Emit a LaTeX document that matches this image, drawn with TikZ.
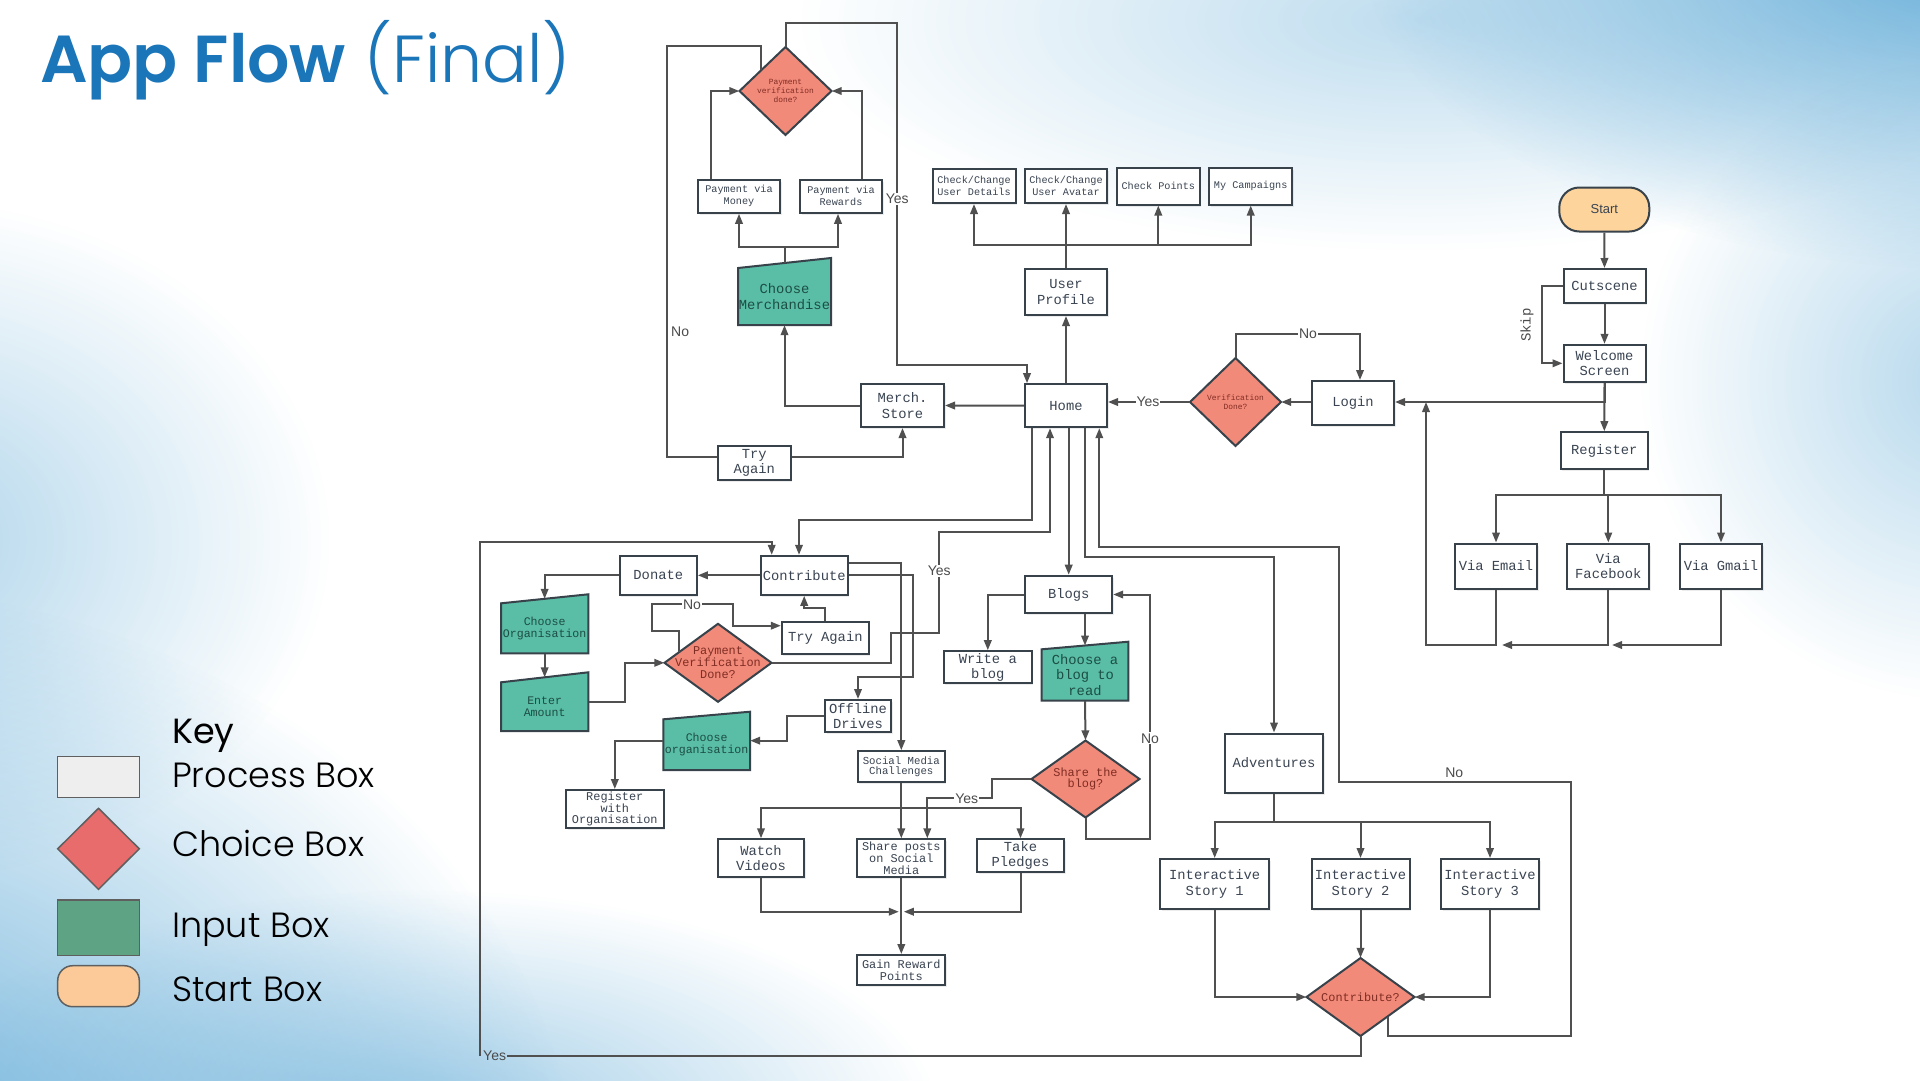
\documentclass[tikz,border=0pt]{standalone}
\usepackage{fontspec}
\setmainfont{Liberation Sans}
\newfontfamily\mono{Liberation Mono}
\newfontfamily\pop{Poppins}
\IfFontExistsTF{Poppins Light}{\newfontfamily\poplight{Poppins Light}}{\newfontfamily\poplight{Poppins}}
\IfFontExistsTF{Poppins SemiBold}{\newfontfamily\popsemi{Poppins SemiBold}}{\newfontfamily\popsemi{Poppins}[UprightFont=*,BoldFont=*]}
\usetikzlibrary{arrows.meta,calc,fadings,shadows}
\tikzfading[name=softblob,inner color=transparent!0,outer color=transparent!100]
\newcommand\myfs[2]{\fontsize{#1}{#2}\selectfont}
\definecolor{boxc}{RGB}{55,66,74}
\definecolor{linec}{RGB}{80,80,80}
\definecolor{txtc}{RGB}{58,68,82}
\definecolor{chf}{RGB}{242,138,122}
\definecolor{cht}{RGB}{128,45,35}
\definecolor{inf}{RGB}{90,189,166}
\definecolor{intx}{RGB}{28,78,68}
\definecolor{stf}{RGB}{252,212,156}
\definecolor{lblc}{RGB}{75,75,75}
\definecolor{titleblue}{RGB}{27,117,185}
\definecolor{bgblue}{RGB}{95,170,215}
\definecolor{legproc}{RGB}{238,238,238}
\definecolor{legch}{RGB}{232,108,108}
\definecolor{legin}{RGB}{95,163,133}
\definecolor{legst}{RGB}{251,202,152}
\definecolor{leggray}{RGB}{95,95,95}
\newcommand\Choice[7]{%
  \filldraw[chshape] ({#3-#5/2},#4) -- (#3,{#4-#6/2}) -- ({#3+#5/2},#4) -- (#3,{#4+#6/2}) -- cycle;
  \node[chtxt,#2,minimum width=#5pt,minimum height=#6pt] (#1) at (#3,#4) {#7};}
\newcommand\InBox[8]{%
  \filldraw[inshape] (#3,#7) -- (#4,#7) -- (#4,#6) -- (#3,#5) -- cycle;
  \coordinate (#1-t) at ({(#3+#4)/2},{(#5+#6)/2});
  \node[intxt,#2,minimum width={#4pt-#3pt},minimum height={#7pt-#5pt}] (#1) at ({(#3+#4)/2},{(#5+#7)/2}) {#8};}
\tikzset{
  conn/.style={draw=linec,line width=2pt},
  arr/.style={conn,-{Triangle[length=10pt,width=7.5pt]}},
  pbox/.style={draw=boxc,fill=white,line width=2pt,inner sep=0pt,align=center,text=txtc,
    drop shadow={shadow xshift=1.5pt,shadow yshift=-2pt,opacity=0.15}},
  startst/.style={draw=boxc,fill=stf,line width=2pt,rounded corners=20pt,inner sep=0pt,font=\myfs{13}{15},text=txtc},
  chshape/.style={fill=chf,draw=boxc,line width=2pt},
  chtxt/.style={inner sep=0pt,align=center,text=cht},
  inshape/.style={fill=inf,draw=boxc,line width=2pt},
  intxt/.style={inner sep=0pt,align=center,text=intx},
  fA/.style={font=\mono\myfs{13.8}{15.2}},
  fB/.style={font=\mono\myfs{10.2}{12}},
  fC/.style={font=\mono\myfs{11.9}{11.8}},
  fD/.style={font=\mono\myfs{7.9}{9.3}},
  fE/.style={font=\mono\myfs{10.7}{10.8}},
  fF/.style={font=\mono\myfs{11.6}{11.8}},
  lbl/.style={font=\myfs{14}{15},text=lblc,inner sep=1pt,fill=white},
  legtxt/.style={font=\poplight\myfs{35}{40},text=black,inner sep=0pt}
}
\begin{document}
\begin{tikzpicture}[x=1pt,y=-1pt]
\useasboundingbox (0,0) rectangle (1920,1080);
\fill[white] (0,0) rectangle (1920,1080);
% background watercolour
\fill[bgblue,opacity=1,path fading=softblob] (-200,1200) ellipse (780 and 620);
\fill[bgblue,opacity=0.5,path fading=softblob] (-100,540) ellipse (430 and 340);
\fill[bgblue,opacity=0.6,path fading=softblob] (420,1120) ellipse (520 and 230);
\fill[bgblue,opacity=1,path fading=softblob] (1980,-60) ellipse (620 and 330);
\fill[bgblue,opacity=0.4,path fading=softblob] (1420,20) ellipse (620 and 230);
\fill[bgblue,opacity=0.45,path fading=softblob] (1960,380) ellipse (320 and 320);

% title
\node[anchor=base west,inner sep=0pt,text=titleblue] (title) at (40,82) {\myfs{66.5}{70}{\popsemi App Flow} {\poplight(Final)}};

% legend
\node[draw=leggray,fill=legproc,line width=1.5pt,minimum width=81.6pt,minimum height=40.6pt,inner sep=0pt] (kproc) at (98.5,777) {};
\filldraw[fill=legch,draw=leggray,line width=1.5pt] (57.7,848.8) -- (98.5,808.3) -- (139.3,848.8) -- (98.5,889.3) -- cycle;
\node[minimum width=81.6pt,minimum height=81pt,inner sep=0pt] (kch) at (98.5,848.8) {};
\node[draw=leggray,fill=legin,line width=1.5pt,minimum width=81.6pt,minimum height=55.7pt,inner sep=0pt] (kin) at (98.5,927.8) {};
\node[draw=leggray,fill=legst,line width=1.5pt,rounded corners=15pt,minimum width=81.6pt,minimum height=41pt,inner sep=0pt] (kst) at (98.5,986.2) {};
\node[legtxt,font=\pop\myfs{35}{40},anchor=base west] (kkey) at (172,743.3) {Key};
\node[legtxt,anchor=base west] (ktone) at (172,787.3) {Process Box};
\node[legtxt,anchor=base west] (kttwo) at (172,856.7) {Choice Box};
\node[legtxt,anchor=base west] (ktthree) at (172,937.3) {Input Box};
\node[legtxt,anchor=base west] (ktfour) at (172,1001.7) {Start Box};

% process boxes
\node[pbox,fB,minimum width=82pt,minimum height=33pt] (pmoney) at (739,196.3) {Payment via\\Money};
\node[pbox,fB,minimum width=82pt,minimum height=33pt] (prew) at (841,196.3) {Payment via\\Rewards};
\node[pbox,fB,minimum width=83pt,minimum height=34pt] (ccud) at (974,186) {Check/Change\\User Details};
\node[pbox,fB,minimum width=82pt,minimum height=34pt] (ccua) at (1066,186) {Check/Change\\User Avatar};
\node[pbox,fB,minimum width=83pt,minimum height=37pt] (chkp) at (1158.3,186) {Check Points};
\node[pbox,fB,minimum width=83pt,minimum height=37pt] (mycamp) at (1250.7,186) {My Campaigns};
\node[pbox,fA,minimum width=82pt,minimum height=46pt] (uprof) at (1066,292) {User\\Profile};
\node[pbox,fA,minimum width=82pt,minimum height=43pt] (home) at (1066,405.7) {Home};
\node[pbox,fA,minimum width=83pt,minimum height=43pt] (merch) at (902.5,405.5) {Merch.\\Store};
\node[pbox,fA,minimum width=73pt,minimum height=34pt] (tryone) at (754.2,463) {Try\\Again};
\node[pbox,fA,minimum width=82pt,minimum height=44pt] (login) at (1353,403) {Login};
\node[startst,minimum width=90pt,minimum height=44pt] (start) at (1604.3,209.5) {Start};
\node[pbox,fA,minimum width=82pt,minimum height=34pt] (cut) at (1604.5,286) {Cutscene};
\node[pbox,fA,minimum width=82pt,minimum height=37pt] (welcome) at (1604.5,363.3) {Welcome\\Screen};
\node[pbox,fA,minimum width=87pt,minimum height=37pt] (reg) at (1604.3,450.7) {Register};
\node[pbox,fA,minimum width=82pt,minimum height=45pt] (vemail) at (1496,566) {Via Email};
\node[pbox,fA,minimum width=82pt,minimum height=45pt] (vfb) at (1608.3,566) {Via\\Facebook};
\node[pbox,fA,minimum width=82pt,minimum height=45pt] (vgmail) at (1721,566) {Via Gmail};
\node[pbox,fA,minimum width=77pt,minimum height=39pt] (donate) at (658.3,575.3) {Donate};
\node[pbox,fA,minimum width=87pt,minimum height=39pt] (contrib) at (804.2,575.3) {Contribute};
\node[pbox,fA,minimum width=87pt,minimum height=32pt] (trytwo) at (825.3,637.5) {Try Again};
\node[pbox,fA,minimum width=66pt,minimum height=32pt] (offline) at (858,716) {Offline\\Drives};
\node[pbox,fC,minimum width=97.6pt,minimum height=38pt] (regorg) at (614.8,809) {Register\\with\\Organisation};
\node[pbox,fE,minimum width=87pt,minimum height=31pt] (smc) at (901.3,766.7) {Social Media\\Challenges};
\node[pbox,fA,minimum width=86pt,minimum height=38pt] (watch) at (761,858.3) {Watch\\Videos};
\node[pbox,fC,minimum width=88pt,minimum height=38pt] (share) at (901.3,858.3) {Share posts\\on Social\\Media};
\node[pbox,fA,minimum width=87pt,minimum height=33pt] (pledge) at (1020.5,855.8) {Take\\Pledges};
\node[pbox,fC,minimum width=88pt,minimum height=30pt] (gain) at (901.3,970) {Gain Reward\\Points};
\node[pbox,fA,minimum width=87pt,minimum height=37.6pt] (blogs) at (1068.7,594.5) {Blogs};
\node[pbox,fA,minimum width=88pt,minimum height=32pt] (write) at (987.8,667.2) {Write a\\blog};
\node[pbox,fA,minimum width=98pt,minimum height=59pt] (adv) at (1274,763) {Adventures};
\node[pbox,fA,minimum width=109pt,minimum height=50pt] (isone) at (1214.7,884) {Interactive\\Story 1};
\node[pbox,fA,minimum width=98pt,minimum height=50pt] (istwo) at (1360.5,884) {Interactive\\Story 2};
\node[pbox,fA,minimum width=98pt,minimum height=50pt] (isthree) at (1490,884) {Interactive\\Story 3};

% choice boxes
\Choice{payd}{fD}{785.5}{91}{92}{88}{Payment\\verification\\done?}
\Choice{verd}{fD}{1235.5}{402}{91}{88}{Verification\\Done?}
\Choice{pvd}{fC}{718}{662.8}{107}{78}{Payment\\Verification\\Done?}
\Choice{shareq}{fC}{1085.5}{779}{108}{77}{Share the\\blog?}
\Choice{contq}{fC}{1360.5}{997}{108}{78}{Contribute?}

% input boxes
\InBox{cmerch}{fA}{738}{831}{268}{258}{325}{Choose\\Merchandise}
\InBox{corgone}{fF}{501}{588.3}{603.3}{594.3}{653.3}{Choose\\Organisation}
\InBox{enter}{fF}{501}{588.3}{682.3}{672.3}{731}{Enter\\Amount}
\InBox{corgtwo}{fF}{663.3}{750}{719.3}{711.7}{770}{Choose\\organisation}
\InBox{cblog}{fA}{1041.7}{1128.3}{649.3}{641.7}{700.7}{Choose a\\blog to\\read}

% bottom-left Yes label (needed by a connector)
\node[lbl,fill=none,anchor=west] (lyes) at (482,1056) {Yes};
\coordinate (jl) at (1426,402);
\coordinate (jg) at (901.3,911.7);

% merchandise connectors
\draw[arr] (cmerch-t) -- ++(0,-16.3) -| (pmoney.south);
\draw[arr] (cmerch-t) -- ++(0,-16.3) -| ([xshift=-3pt]prew.south);
\draw[arr] ([xshift=-28pt]pmoney.north) |- (payd.west);
\draw[arr] ([xshift=21pt]prew.north) |- (payd.east);
\draw[conn] ($(payd.west)!0.47!(payd.north)$) -- ++(0,-24) -- ++(-94,0) |- ([yshift=5.7pt]tryone.west);
\draw[arr] (payd.north) -- ++(0,-24) -| (897.3,365) -| ([xshift=-39pt]home.north);
\draw[arr] (home.west) -- (merch.east);
\draw[arr] (merch.west) -| (cmerch.south);
\draw[arr] ([yshift=5.7pt]tryone.east) -| (merch.south);

% profile connectors
\draw[arr] (home.north) -- (uprof.south);
\draw[arr] (uprof.north) -- (ccua.south);
\draw[arr] (uprof.north) -- ++(0,-23.3) -| (ccud.south);
\draw[arr] (uprof.north) -- ++(0,-23.3) -| (chkp.south);
\draw[arr] (uprof.north) -- ++(0,-23.3) -| (mycamp.south);

% login connectors
\draw[arr] (login.west |- verd.east) -- (verd.east);
\draw[arr] (verd.west) -- (verd.west -| home.east);
\draw[arr] (verd.north) -- ++(0,-24) -| ([xshift=7pt]login.north);

% start connectors
\draw[arr] (start.south) -- (cut.north);
\draw[arr] (cut.south) -- (welcome.north);
\draw[arr] (cut.west) -- ++(-21,0) |- (welcome.west);
\draw[arr] (welcome.south) -- (reg.north);
\draw[arr] (welcome.south) |- (login.east |- verd.east);
\draw[arr] (reg.south) -- ++(0,24.3) -| (vemail.north);
\draw[arr] (reg.south) -- ++(0,24.3) -| (vfb.north);
\draw[arr] (reg.south) -- ++(0,24.3) -| (vgmail.north);
\draw[arr] (vgmail.south) |- (1612,645);
\draw[arr] (vfb.south) |- (1502,645);
\draw[arr] (vemail.south) |- (1426,645) -- (jl);

% contribute connectors
\draw[arr] (contrib.west) -- (donate.east);
\draw[arr] (donate.west) -| (corgone-t);
\draw[arr] (corgone.south) -- (enter-t);
\draw[arr] ([yshift=5pt]enter.east) -- ++(36.7,0) |- (pvd.west);
\draw[arr] ($(pvd.west)!0.28!(pvd.north)$) -- ++(0,-21.3) -- ++(-27,0) -- ++(0,-26.4) -- ++(81,0) |- ([yshift=11.8pt]trytwo.west);
\draw[arr] (trytwo.north) -- ++(0,-12.7) -| (contrib.south);
\draw[arr] (pvd.east) -- ++(119.3,0) |- (939.3,633.3) -- (939.3,531.7) -| ([xshift=-16pt]home.south);
\draw[arr] ([xshift=-34.3pt]home.south) -- ++(0,92) -| ([xshift=-5.2pt]contrib.north);
\draw[conn] (contq.south) |- (lyes.east);
\draw[arr] ([xshift=-2pt]lyes.west) |- (600,541.7) -| ([xshift=-32.5pt]contrib.north);
\draw[arr] ([yshift=12.6pt]contrib.east) -| (smc.north);
\draw[arr] (contrib.east) -| (912.7,677.3) -| (offline.north);
\draw[arr] (offline.west) -- ++(-36.7,0) |- ([yshift=4pt]corgtwo.east);
\draw[arr] ([yshift=4pt]corgtwo.west) -| (regorg.north);
\draw[arr] (smc.south) -- (share.north);
\draw[arr] (smc.south) -- ++(0,24.4) -| (watch.north);
\draw[arr] (smc.south) -- ++(0,24.4) -| (pledge.north);
\draw[arr] (shareq.west) -- ++(-39,0) |- (960,798.3) -| ([xshift=26pt]share.north);
\draw[arr] (watch.south) |- ([xshift=-2.5pt]jg);
\draw[arr] (pledge.south) |- ([xshift=2.5pt]jg);
\draw[arr] (share.south) -- (gain.north);

% blog connectors
\draw[arr] (home.south -| blogs.north) -- (blogs.north);
\draw[arr] (blogs.west) -| (write.north);
\draw[arr] (blogs.south -| cblog-t) -- (cblog-t);
\draw[arr] (cblog.south) -- (shareq.north);
\draw[arr] (shareq.south) -- ++(0,21) -- ++(64.5,0) |- (blogs.east);

% adventure connectors
\draw[arr] ([xshift=19pt]home.south) -- ++(0,128.3) -| (adv.north);
\draw[arr] (adv.south) -- ++(0,28.4) -| (isone.north);
\draw[arr] (adv.south) -- ++(0,28.4) -| (istwo.north);
\draw[arr] (adv.south) -- ++(0,28.4) -| (isthree.north);
\draw[arr] (isone.south) |- (contq.west);
\draw[arr] (isthree.south) |- (contq.east);
\draw[arr] (istwo.south) -- (contq.north);
\draw[arr] ($(contq.south)!0.5!(contq.east)$) -- ++(0,19.7) -| (1571,782.3) -| (1339,547) -| ([xshift=33.3pt]home.south);

% labels
\node[lbl] (lyesa) at (897.3,199) {Yes};
\node[lbl,fill=none,anchor=west] (lnoa) at (670,332) {No};
\node[lbl] (lyesb) at (1148,402) {Yes};
\node[lbl] (lnob) at (1308,334) {No};
\node[lbl] (lnoc) at (692,604.3) {No};
\node[lbl] (lyesc) at (939.3,570.7) {Yes};
\node[lbl] (lyesd) at (966.7,798.3) {Yes};
\node[lbl] (lnod) at (1150,738.3) {No};
\node[lbl,fill=none] (lnoe) at (1454.3,773) {No};
\node[rotate=90,font=\mono\myfs{14}{15},text=lblc,inner sep=0pt] (lskip) at (1527,325) {Skip};
\end{tikzpicture}
\end{document}
